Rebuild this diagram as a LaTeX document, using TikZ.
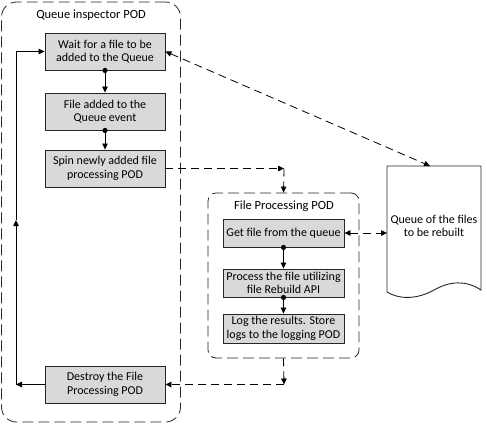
\documentclass[tikz,border=0pt]{standalone}
\usepackage{fontspec}
\setmainfont{Carlito}
\usetikzlibrary{arrows.meta}
\definecolor{boxfill}{HTML}{D9D9D9}
\definecolor{edge}{HTML}{262626}
\begin{document}
\begin{tikzpicture}[x=1pt,y=-1pt,
  font=\fontsize{12}{13.5}\selectfont,
  stepbox/.style={draw=edge,line width=0.9pt,fill=boxfill,align=center,
    minimum width=120pt,inner sep=1pt},
  pod/.style={draw=edge,line width=0.8pt,dash pattern=on 11pt off 5pt},
  title/.style={font=\fontsize{12.5}{14}\selectfont},
  tip/.style={-{Triangle[length=6pt,width=5.5pt]}},
  solidarr/.style={draw=black,line width=0.8pt,tip},
  dasharr/.style={draw=black,line width=0.8pt,dash pattern=on 8pt off 5pt,tip},
  dot/.style={fill=black}]
\useasboundingbox (0,0) rectangle (487,424);

% containers
\node[pod,rounded corners=15pt,minimum width=179pt,minimum height=420pt] (qi) at (91,212) {};
\node[pod,rounded corners=8pt,minimum width=151pt,minimum height=165pt] (fp) at (283.5,275.5) {};
\node[title] (qit) at (91,15) {Queue inspector POD};
\node[title] (fpt) at (284,206) {File Processing POD};

% queue inspector steps
\node[stepbox,minimum height=37pt] (w) at (105,51.5) {Wait for a file to be\\added to the Queue};
\node[stepbox,minimum height=37pt] (e) at (105,111.5) {File added to the\\Queue event};
\node[stepbox,minimum height=37pt] (s) at (105,168.5) {Spin newly added file\\processing POD};
\node[stepbox,minimum height=37pt] (d) at (105,384.5) {Destroy the File\\Processing POD};

% file processing steps
\node[stepbox,minimum width=121pt,minimum height=28pt] (g) at (283.5,233) {Get file from the queue};
\node[stepbox,minimum width=121pt,minimum height=28pt] (p) at (283.5,283) {Process the file utilizing\\file Rebuild API};
\node[stepbox,minimum width=121pt,minimum height=29pt] (l) at (283.5,328.5) {Log the results. Store\\logs to the logging POD};

% queue document
\draw[edge,line width=0.9pt] (387,166) -- (481,166) -- (481,290)
  .. controls (466,280) and (450,281) .. (434,290)
  .. controls (418,299) and (400,300) .. (387,292) -- cycle;
\coordinate (qtop) at (430,166);
\coordinate (qleft) at (387,233);
\node[align=center] (q) at (434,226) {Queue of the files\\to be rebuilt};

% sequence inside the queue inspector
\fill[dot] (w.south) circle (2.6);
\draw[solidarr] (w.south) -- (e.north);
\fill[dot] (e.south) circle (2.6);
\draw[solidarr] (e.south) -- (s.north);

% sequence inside the file processing pod
\fill[dot] (g.south) circle (2.6);
\draw[solidarr] (g.south) -- (p.north);
\fill[dot] (p.south) circle (2.6);
\draw[solidarr] (p.south) -- (l.north);

% loop back to waiting
\coordinate (lc) at (16,384.5);
\coordinate (lm) at (16,220);
\coordinate (lt) at (16,51.5);
\draw[solidarr] (d.west) -- (lc);
\draw[solidarr] (lc) -- (lm);
\draw[solidarr] (lm) -- (lt) -- (w.west);

% spin up the file processing pod
\coordinate (sc) at (284,168.5);
\draw[dasharr] (s.east) -- (sc);
\draw[dasharr] (sc) -- (fp.north);

% back to destroy
\coordinate (bc) at (284,384.5);
\draw[dasharr] (fp.south) -- (bc);
\draw[dasharr] (bc) -- (d.east);

% queue links
\draw[dasharr,{Triangle[length=6pt,width=5.5pt]}-{Triangle[length=6pt,width=5.5pt]}] (w.east) -- (qtop);
\draw[dasharr,{Triangle[length=6pt,width=5.5pt]}-{Triangle[length=6pt,width=5.5pt]}] (g.east) -- (qleft);
\end{tikzpicture}
\end{document}
